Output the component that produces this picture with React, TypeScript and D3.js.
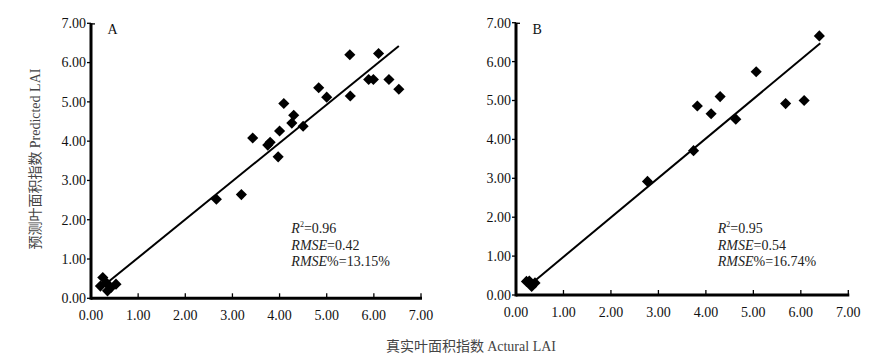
import React from "react";
import * as d3 from "d3";

// Panel A data (actual, predicted)
const actualA = [0.2, 0.25, 0.32, 0.35, 0.42, 0.53, 2.66, 3.19, 3.43, 3.75, 3.8, 3.97, 4.0, 4.09, 4.26, 4.3, 4.5, 4.83, 5.0, 5.49, 5.5, 5.89, 5.99, 6.1, 6.32, 6.53];
const predA = [0.31, 0.53, 0.4, 0.19, 0.27, 0.36, 2.52, 2.64, 4.08, 3.9, 3.97, 3.6, 4.26, 4.96, 4.46, 4.66, 4.38, 5.36, 5.12, 6.2, 5.15, 5.57, 5.57, 6.23, 5.57, 5.32];
const fitA = [[0.35, 0.4], [6.53, 6.42]];

// Panel B data
const actualB = [0.22, 0.28, 0.33, 0.4, 2.77, 3.74, 3.82, 4.11, 4.3, 4.63, 5.06, 5.68, 6.07, 6.39];
const predB = [0.35, 0.36, 0.22, 0.31, 2.92, 3.71, 4.86, 4.66, 5.1, 4.52, 5.74, 4.92, 5.0, 6.66];
const fitB = [[0.36, 0.33], [6.41, 6.47]];

const ticks = [0, 1, 2, 3, 4, 5, 6, 7];
const statsA = ["0.96", "0.42", "13.15%"];
const statsB = ["0.95", "0.54", "16.74%"];

const serif = "'Liberation Serif', 'Times New Roman', serif";
const cjk = "'Noto Sans CJK SC', sans-serif";

type PanelProps = {
  x0: number; x1: number; y0: number; y1: number;
  xs: number[]; ys: number[]; fit: number[][]; stats: string[]; letter: string;
};

function Panel({ x0, x1, y0, y1, xs, ys, fit, stats, letter }: PanelProps) {
  const x = d3.scaleLinear().domain([0, 7]).range([x0, x1]);
  const y = d3.scaleLinear().domain([0, 7]).range([y0, y1]);
  const sym = d3.symbol(d3.symbolSquare, 62)()!;
  const line = d3.line<number[]>().x(d => x(d[0])).y(d => y(d[1]));
  const ax = x(4.25);
  return (
    <g>
      <path d={line(fit)!} stroke="#000" strokeWidth={2} fill="none" />
      {xs.map((v, i) => (
        <path key={i} d={sym} transform={`translate(${x(v)},${y(ys[i])}) rotate(45)`} fill="#000" />
      ))}
      <line x1={x(0)} x2={x(0)} y1={y(0) + 1.5} y2={y(7)} stroke="#000" strokeWidth={3} />
      <line x1={x(0)} x2={x(7) + 1} y1={y(0)} y2={y(0)} stroke="#000" strokeWidth={3} />
      <line x1={x(0)} x2={x(0) + 4} y1={y(7) + 0.6} y2={y(7) + 0.6} stroke="#000" strokeWidth={1.3} />
      {ticks.map(t => (
        <g key={"y" + t}>
          <line x1={x(0) - 4} x2={x(0)} y1={y(t)} y2={y(t)} stroke="#000" strokeWidth={1.3} />
          <text x={x(0) - 5} y={y(t)} dy="0.35em" textAnchor="end" fontFamily={serif} fontSize={14} fill="#111">
            {t.toFixed(2)}
          </text>
        </g>
      ))}
      {ticks.map(t => (
        <g key={"x" + t}>
          {t > 0 && <line x1={x(t)} x2={x(t)} y1={y(0)} y2={y(0) - 5} stroke="#000" strokeWidth={1.3} />}
          <text x={x(t)} y={y(0) + 22} textAnchor="middle" fontFamily={serif} fontSize={14} fill="#111">
            {t.toFixed(2)}
          </text>
        </g>
      ))}
      <text x={x(0.35)} y={y(7) + 11} fontFamily={serif} fontSize={14} fill="#111">{letter}</text>
      <g fontFamily={serif} fontSize={14} fill="#222">
        <text x={ax} y={233}>
          <tspan fontStyle="italic">R</tspan>
          <tspan fontSize={8} dy={-6}>2</tspan>
          <tspan dy={6}>={stats[0]}</tspan>
        </text>
        <text x={ax} y={250}>
          <tspan fontStyle="italic">RMSE</tspan>={stats[1]}
        </text>
        <text x={ax} y={266}>
          <tspan fontStyle="italic">RMSE</tspan>%={stats[2]}
        </text>
      </g>
    </g>
  );
}

export default function App() {
  return (
    <svg width={890} height={364} style={{ position: "absolute", left: 0, top: 0, background: "#fff" }}>
      <rect width={890} height={364} fill="#fff" />
      <Panel x0={91} x1={421} y0={298.3} y1={23.3} xs={actualA} ys={predA} fit={fitA} stats={statsA} letter="A" />
      <Panel x0={516} x1={848.3} y0={295} y1={22.7} xs={actualB} ys={predB} fit={fitB} stats={statsB} letter="B" />
      <text transform="translate(40,159) rotate(-90)" textAnchor="middle" fontSize={14} fill="#444">
        <tspan fontFamily={cjk}>预测叶面积指数 </tspan>
        <tspan fontFamily={serif}>Predicted LAI</tspan>
      </text>
      <text x={471} y={351} textAnchor="middle" fontSize={14} fill="#444">
        <tspan fontFamily={cjk}>真实叶面积指数 </tspan>
        <tspan fontFamily={serif}>Actural LAI</tspan>
      </text>
    </svg>
  );
}
